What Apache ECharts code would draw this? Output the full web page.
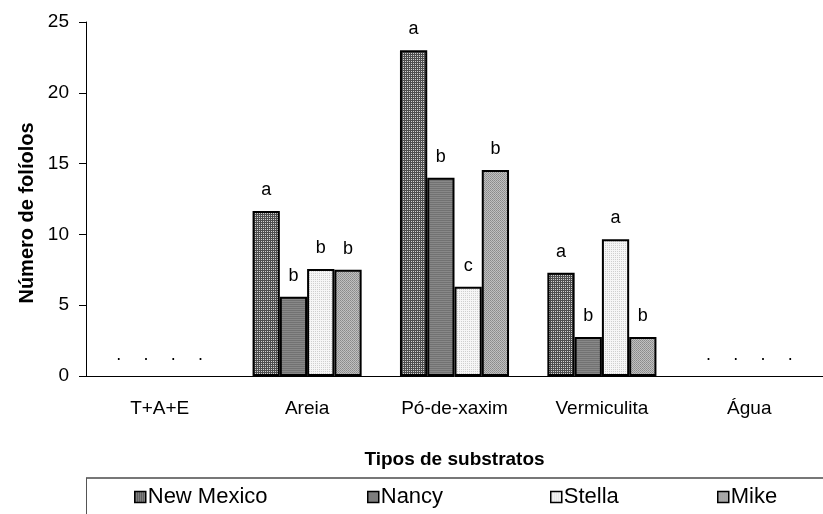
<!DOCTYPE html>
<html><head><meta charset="utf-8">
<script src="https://cdn.jsdelivr.net/npm/echarts@6/dist/echarts.min.js"></script>
<style>html,body{margin:0;padding:0;background:#fff}#c{width:823px;height:514px}</style>
</head><body><div id="c"></div>
<script>
const categories = ['T+A+E', 'Areia', 'Pó-de-xaxim', 'Vermiculita', 'Água'];
const seriesNames = ['New Mexico', 'Nancy', 'Stella', 'Mike'];
const newMexico = [0, 11.65, 23.0, 7.3, 0];
const nancy     = [0, 5.6, 14.0, 2.75, 0];
const stella    = [0, 7.55, 6.3, 9.65, 0];
const mike      = [0, 7.5, 14.55, 2.75, 0];
const lettersNewMexico = ['.', 'a', 'a', 'a', '.'];
const lettersNancy     = ['.', 'b', 'b', 'b', '.'];
const lettersStella    = ['.', 'b', 'c', 'a', '.'];
const lettersMike      = ['.', 'b', 'b', 'b', '.'];
const yTicks = [0, 5, 10, 15, 20, 25];
const yTitle = 'Número de folíolos';
const xTitle = 'Tipos de substratos';

function pattern(w, h, draw) {
  const c = document.createElement('canvas'); c.width = w; c.height = h;
  const g = c.getContext('2d'); draw(g); return {image: c, repeat: 'repeat'};
}
const fills = [
  pattern(2, 2, g => { g.fillStyle = '#4e4e4e'; g.fillRect(0,0,2,2); g.fillStyle = '#d0d0d0'; g.fillRect(1,1,1,1); }),
  pattern(2, 2, g => { g.fillStyle = '#727272'; g.fillRect(0,0,2,2); g.fillStyle = '#888'; g.fillRect(0,1,2,1); }),
  pattern(2, 2, g => { g.fillStyle = '#f6f6f6'; g.fillRect(0,0,2,2); g.fillStyle = '#cfcfcf'; g.fillRect(1,1,1,1); }),
  pattern(2, 2, g => { g.fillStyle = '#c0c0c0'; g.fillRect(0,0,2,2); g.fillStyle = '#8a8a8a'; g.fillRect(0,0,1,1); g.fillStyle = '#969696'; g.fillRect(1,1,1,1); })
];
const values = [newMexico, nancy, stella, mike];
const letters = [lettersNewMexico, lettersNancy, lettersStella, lettersMike];
const FONT = "'Liberation Sans', Arial, sans-serif";
const legendLeft = [129, 362, 545, 712];

const chart = echarts.init(document.getElementById('c'));
chart.setOption({
  animation: false,
  textStyle: {fontFamily: FONT},
  grid: {left: 86, top: 22, right: -8, bottom: 138, containLabel: false},
  legend: seriesNames.map((n, i) => ({
    data: [n], bottom: 1, left: legendLeft[i],
    icon: 'rect', itemWidth: 11, itemHeight: 11,
    textStyle: {fontFamily: FONT, fontSize: 22, color: '#000', padding: [0,0,0,-3]},
    itemStyle: {borderColor: '#000', borderWidth: 1.5}
  })),
  xAxis: {
    type: 'category', data: categories,
    axisLine: {lineStyle: {color: '#000', width: 1}},
    axisTick: {length: 6, lineStyle: {color: '#000'}},
    axisLabel: {color: '#000', fontSize: 19, margin: 23, fontFamily: FONT},
    name: xTitle, nameLocation: 'middle', nameGap: 74,
    nameTextStyle: {fontWeight: 'bold', fontSize: 19, color: '#000', fontFamily: FONT}
  },
  yAxis: {
    type: 'value', min: 0, max: 25, interval: 5,
    splitLine: {show: false},
    axisLine: {show: true, lineStyle: {color: '#000', width: 1}},
    axisTick: {show: true, length: 7, lineStyle: {color: '#000'}},
    axisLabel: {color: '#000', fontSize: 19, margin: 17, fontFamily: FONT,
      formatter: v => yTicks.includes(v) ? String(v) : ''}
  },
  series: seriesNames.map((name, i) => ({
    name, type: 'bar',
    data: values[i].map(v => v === 0 ? {value: v, itemStyle: {borderWidth: 0}} : v),
    barGap: '0%', barCategoryGap: '26%',
    itemStyle: {color: fills[i], borderColor: '#000', borderWidth: 2},
    label: {show: true, position: 'top', distance: 12, color: '#000', fontSize: 18, fontFamily: FONT,
      formatter: p => letters[i][p.dataIndex]}
  })),
  graphic: [
    {type: 'text', x: 27, y: 213, rotation: Math.PI / 2,
     style: {text: yTitle, font: "bold 20px 'Liberation Sans', Arial, sans-serif", fill: '#000', align: 'center', verticalAlign: 'middle'}},
    {type: 'line', shape: {x1: 86, y1: 478, x2: 823, y2: 478}, style: {stroke: '#777', lineWidth: 2}},
    {type: 'line', shape: {x1: 86.5, y1: 478, x2: 86.5, y2: 514}, style: {stroke: '#555', lineWidth: 1}}
  ]
});
</script></body></html>
